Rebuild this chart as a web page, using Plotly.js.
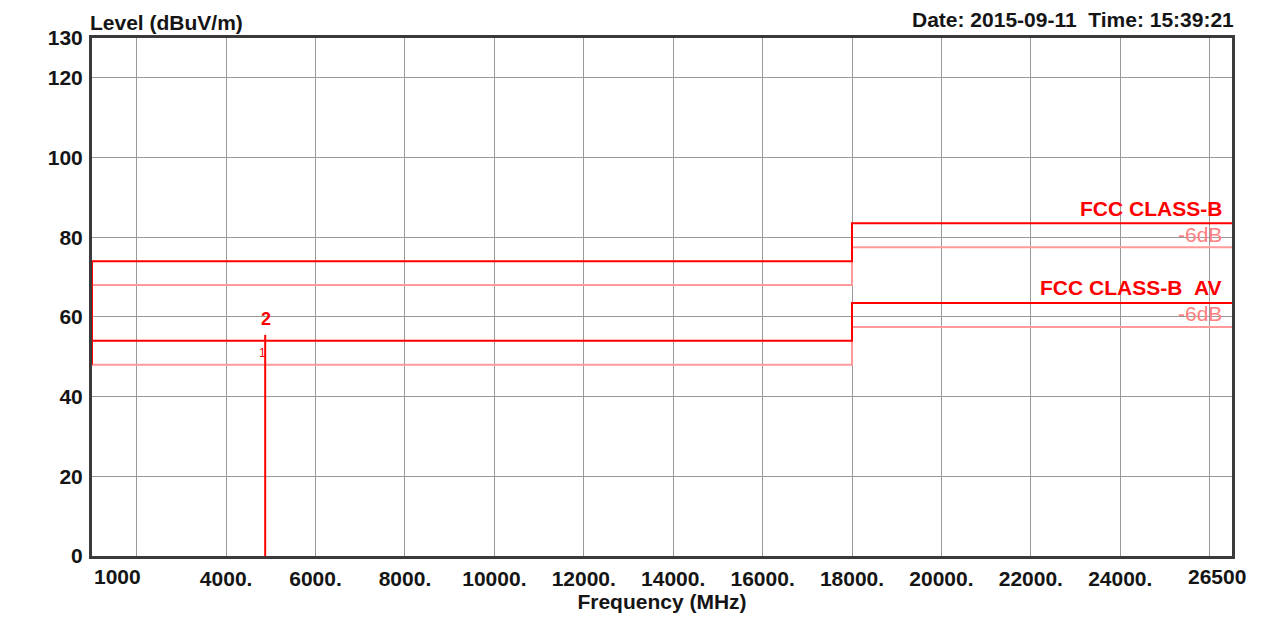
<!DOCTYPE html>
<html><head><meta charset="utf-8">
<script src="https://cdn.plot.ly/plotly-3.0.1.min.js"></script>
<style>html,body{margin:0;padding:0;background:#fff;}</style>
</head><body><div id="chart" style="width:1266px;height:618px;"></div>
<script>
// ---- data ----
const xRange = [1000, 26500];
const yRange = [0, 130];
const xGridVals = [2000, 4000, 6000, 8000, 10000, 12000, 14000, 16000, 18000, 20000, 22000, 24000, 26000];
const xTickLabels = ["", "4000.", "6000.", "8000.", "10000.", "12000.", "14000.", "16000.", "18000.", "20000.", "22000.", "24000.", ""];
const xEdgeLabels = ["1000", "26500"];
const yTickVals = [0, 20, 40, 60, 80, 100, 120, 130];
const yTickLabels = ["0", "20", "40", "60", "80", "100", "120", "130"];

const limitFreq = [1000, 18000, 18000, 26500];
const peakLimit = [74, 74, 83.5, 83.5];
const peakLimitMargin = [68, 68, 77.5, 77.5];
const avLimit = [54, 54, 63.5, 63.5];
const avLimitMargin = [48, 48, 57.5, 57.5];
const limitNames = ["FCC CLASS-B", "FCC CLASS-B\u00a0\u00a0AV"];
const marginName = "-6dB";
const limitNameLevels = [87.3, 67.3];
const marginNameLevels = [80.8, 60.8];

const spikeFreq = [4874, 4874];
const spikeLevel = [0, 55.5];
const markerLabels = ["2", "1"];
const markerLevels = [59.4, 51.0];

const yTitle = "Level (dBuV/m)";
const xTitle = "Frequency (MHz)";
const stamp = "Date: 2015-09-11\u00a0\u00a0Time: 15:39:21";

// ---- styles ----
const RED = "#ff0000", PINK = "#ff9a9a";
const FONT = "Liberation Sans, Arial, sans-serif";
const INK = "#151515";

const traces = [
  {x: limitFreq, y: avLimitMargin, mode: "lines", line: {color: PINK, width: 2}, hoverinfo: "skip"},
  {x: limitFreq, y: peakLimitMargin, mode: "lines", line: {color: PINK, width: 2}, hoverinfo: "skip"},
  {x: limitFreq, y: avLimit, mode: "lines", line: {color: RED, width: 2}, hoverinfo: "skip"},
  {x: limitFreq, y: peakLimit, mode: "lines", line: {color: RED, width: 2}, hoverinfo: "skip"},
  {x: [limitFreq[0], limitFreq[0]], y: [avLimitMargin[0], peakLimit[0]], mode: "lines", line: {color: RED, width: 2}, hoverinfo: "skip"},
  {x: spikeFreq, y: spikeLevel, mode: "lines", line: {color: RED, width: 2}, hoverinfo: "skip"}
];

const annotations = [];
annotations.push({x: xRange[0], y: 0, xref: "x", yref: "y", text: "<b>" + xEdgeLabels[0] + "</b>", showarrow: false,
  xanchor: "left", yanchor: "top", yshift: -7, xshift: 0, font: {family: FONT, size: 21, color: INK}});
annotations.push({x: xRange[1], y: 0, xref: "x", yref: "y", text: "<b>" + xEdgeLabels[1] + "</b>", showarrow: false,
  xanchor: "center", yanchor: "top", yshift: -7, xshift: -15, font: {family: FONT, size: 21, color: INK}});
annotations.push({x: 0, y: 1, xref: "paper", yref: "paper", text: "<b>" + yTitle + "</b>", showarrow: false,
  xanchor: "left", yanchor: "bottom", xshift: -4, yshift: 2, font: {family: FONT, size: 21, color: INK}});
annotations.push({x: 1, y: 1, xref: "paper", yref: "paper", text: "<b>" + stamp + "</b>", showarrow: false,
  xanchor: "right", yanchor: "bottom", xshift: 4, yshift: 5, font: {family: FONT, size: 21, color: INK}});
limitNames.forEach((t, i) => {
  annotations.push({x: 1, y: limitNameLevels[i], xref: "paper", yref: "y", text: "<b>" + t + "</b>", showarrow: false,
    xanchor: "right", yanchor: "middle", xshift: -8, font: {family: FONT, size: 21, color: RED}});
  annotations.push({x: 1, y: marginNameLevels[i], xref: "paper", yref: "y", text: marginName, showarrow: false,
    xanchor: "right", yanchor: "middle", xshift: -8, font: {family: FONT, size: 21, color: "#ff8080"}});
});
annotations.push({x: spikeFreq[0], y: markerLevels[0], xref: "x", yref: "y", text: "<b>" + markerLabels[0] + "</b>", showarrow: false,
  xanchor: "center", yanchor: "middle", xshift: 1, font: {family: FONT, size: 18, color: RED}});
annotations.push({x: spikeFreq[0], y: markerLevels[1], xref: "x", yref: "y", text: markerLabels[1], showarrow: false,
  xanchor: "center", yanchor: "middle", xshift: -3, font: {family: FONT, size: 12, color: RED}});

const layout = {
  width: 1266, height: 618,
  margin: {l: 92, r: 34, t: 38, b: 62},
  paper_bgcolor: "#ffffff", plot_bgcolor: "#ffffff",
  showlegend: false,
  font: {family: FONT, size: 21, color: INK},
  xaxis: {
    range: xRange, tickmode: "array", tickvals: xGridVals, ticktext: xTickLabels,
    showgrid: true, gridcolor: "#999999", gridwidth: 1,
    zeroline: false, showline: true, mirror: true, linecolor: "#3a3a3a", linewidth: 3,
    ticks: "", ticklabelstandoff: 2,
    tickfont: {family: FONT, size: 21, color: INK, weight: "bold"},
    title: {text: "<b>" + xTitle + "</b>", font: {family: FONT, size: 21, color: INK}, standoff: 4}
  },
  yaxis: {
    range: yRange, tickmode: "array", tickvals: yTickVals, ticktext: yTickLabels,
    showgrid: true, gridcolor: "#999999", gridwidth: 1,
    zeroline: false, showline: true, mirror: true, linecolor: "#3a3a3a", linewidth: 3,
    ticks: "", ticklabelstandoff: 2,
    tickfont: {family: FONT, size: 21, color: INK, weight: "bold"}
  },
  annotations: annotations
};

Plotly.newPlot("chart", traces, layout, {displayModeBar: false, staticPlot: true});
</script>
</body></html>
